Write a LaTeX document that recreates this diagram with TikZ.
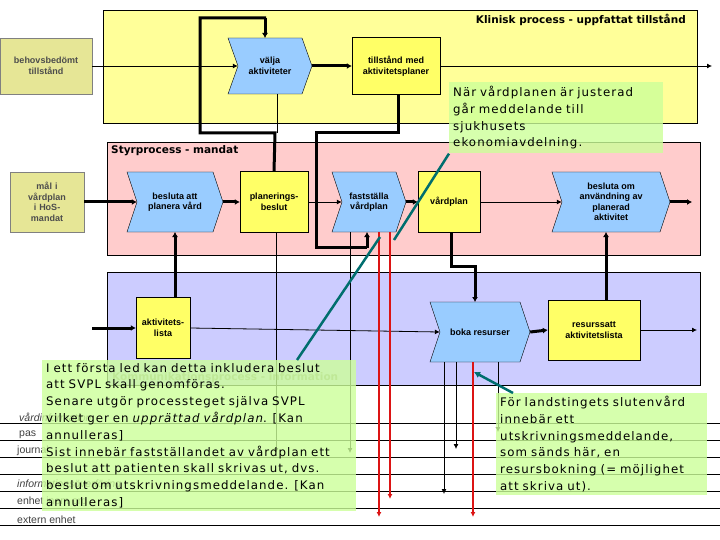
\documentclass[tikz,border=0pt]{standalone}
\usepackage{fontspec}
\setmainfont{DejaVu Sans}
\newfontfamily\lblfont{Liberation Sans}
\newfontfamily\notefont[LetterSpace=9]{DejaVu Sans}
\usetikzlibrary{arrows.meta}
\definecolor{clin}{RGB}{255,255,153}
\definecolor{styr}{RGB}{255,204,204}
\definecolor{komm}{RGB}{204,204,255}
\definecolor{chev}{RGB}{153,204,255}
\definecolor{ybox}{RGB}{255,255,102}
\definecolor{olive}{RGB}{230,230,150}
\definecolor{note}{RGB}{204,255,153}
\definecolor{teal2}{RGB}{0,110,110}
\definecolor{red2}{RGB}{220,20,20}
\newcommand{\chevnode}[6]{%
 \filldraw[fill=chev,draw=black,thin] (#2-#4/2,#3-#5/2) -- (#2+#4/2-10,#3-#5/2) -- (#2+#4/2,#3) -- (#2+#4/2-10,#3+#5/2) -- (#2-#4/2,#3+#5/2) -- (#2-#4/2+10,#3) -- cycle;
 \node[lbl,minimum width=#4,minimum height=#5,inner sep=0pt] (#1) at (#2,#3) {#6};}
\begin{document}
\begin{tikzpicture}[x=1pt,y=-1pt,
 lbl/.style={font=\lblfont\fontsize{9}{10.5}\selectfont\bfseries,align=center},
 ybx/.style={lbl,draw=black,thin,fill=ybox,inner sep=1pt},
 obx/.style={lbl,draw=gray,thin,fill=olive,text=black!70,inner sep=1pt},
 ttl/.style={font=\bfseries\fontsize{10.5}{12}\selectfont,inner sep=0pt},
 flow/.style={-{Latex[length=5pt,width=5pt]},line width=0.8pt},
 tflow/.style={-{Latex[length=5pt,width=6pt]},line width=3pt},
 thk/.style={line width=3pt},
 red/.style={-{Latex[length=5pt,width=5pt]},draw=red2,line width=2.5pt},
 teal/.style={draw=teal2,line width=2.5pt},
 notebox/.style={fill=note,fill opacity=0.8,text opacity=1,align=left,anchor=north west,inner sep=4pt,font=\notefont\fontsize{11.8}{16.8}\selectfont},
 row/.style={font=\lblfont\fontsize{10.5}{11}\selectfont,text=black!75,anchor=south west,inner sep=1pt}]
\useasboundingbox (0,0) rectangle (720,540);
% lanes
\filldraw[fill=clin,draw=black] (103,10) rectangle (697,123);
\node[ttl,anchor=north east] (t1) at (686,14) {Klinisk process - uppfattat tillstånd};
\filldraw[fill=styr,draw=black] (107,142) rectangle (700,255);
\node[ttl,anchor=north west] (t2) at (111,145) {Styrprocess - mandat};
\filldraw[fill=komm,draw=black] (107,272) rectangle (700,385);
\node[ttl,anchor=south west,text=black!45] (t3) at (112,383) {Kommunikationsprocess - information};
% row lines
\foreach \y in {423,440,457,474,491,508,525} \draw[black,thin] (0,\y) -- (720,\y);
\node[row,font=\lblfont\itshape\fontsize{10.5}{11}\selectfont] (r1) at (18,423) {vårdinformation};
\node[row] (r2) at (18,440) {pas};
\node[row] (r3) at (16,457) {journal};
\node[row,font=\lblfont\itshape\fontsize{10.5}{11}\selectfont] (r4) at (16,491) {informationsöverföring};
\node[row] (r5) at (16,508) {enhet inom org};
\node[row] (r6) at (16,525) {extern enhet};
% nodes
\node[obx,minimum width=92,minimum height=56] (beh) at (46,66) {behovsbedömt\\tillstånd};
\chevnode{valja}{270}{66}{84}{56}{välja\\aktiviteter}
\node[ybx,minimum width=88,minimum height=57,text width=86] (till) at (396,66) {tillstånd med\\aktivitetsplaner};
\node[obx,minimum width=74,minimum height=60,text width=66] (mal) at (47,202) {mål i\\vårdplan\\i HoS-\\mandat};
\chevnode{bes}{175}{202}{96}{60}{besluta att\\planera vård}
\node[ybx,minimum width=68,minimum height=61,text width=66] (plan) at (274,202) {planerings-\\beslut};
\chevnode{fast}{369}{202}{74}{60}{fastställa\\vårdplan}
\node[ybx,minimum width=62,minimum height=61,text width=60] (vp) at (449,202) {vårdplan};
\chevnode{anv}{611}{202}{118}{60}{besluta om\\användning av\\planerad\\aktivitet}
\node[ybx,minimum width=54,minimum height=61,text width=52] (akt) at (163,328) {aktivitets-\\lista};
\chevnode{boka}{480}{332}{100}{60}{boka resurser}
\node[ybx,minimum width=92,minimum height=60,text width=90] (res) at (594,330) {resurssatt\\aktivitetslista};
% coordinates
\coordinate (outA) at (712,66);
\coordinate (outB) at (692,202);
\coordinate (outC) at (697,330);
% top flows
\draw[flow] (beh.east) -- ([xshift=10pt]valja.west);
\draw[tflow] (valja.east) -- (till.west);
\draw[flow] (till.east) -- (outA);
\draw[thk] (plan.north) -- (275,133) -- (200,133) -- (200,18) -- (266,18);
\draw[tflow] (265,18) -- (265,38);
\draw[line width=0.8pt] (277,94) -- (277,133);
\draw[thk] (398,95) -- (398,133) -- (316,133) -- (316,247) -- (367,247);
\draw[tflow] (367,248) -- (367,232);
% pink row
\draw[tflow] (mal.east) -- ([xshift=10pt]bes.west);
\draw[tflow] (bes.east) -- (plan.west);
\draw[flow] (plan.east) -- ([xshift=10pt]fast.west);
\draw[tflow] (fast.east) -- (vp.west);
\draw[flow] (vp.east) -- ([xshift=10pt]anv.west);
\draw[tflow] (anv.east) -- (outB);
% blue row
\draw[tflow] (92,328) -- (akt.west);
\draw[flow] (akt.east) -- ([xshift=10pt]boka.west);
\draw[tflow] (boka.east) -- (res.west);
\draw[flow] (res.east) -- (outC);
\draw[tflow] ([xshift=12pt]akt.north) -- (175,232);
\draw[tflow] (606,300) -- (606,232);
\draw[thk] (451,233) -- (451,266) -- (475,266);
\draw[tflow] (475,265) -- (475,302);
% verticals down
\draw[flow] (276,232) -- (276,453);
\draw[flow] (350,232) -- (350,453);
\draw[red] (379,232) -- (379,517);
\draw[red] (390,232) -- (390,499);
\draw[red] (473,362) -- (473,517);
\draw[flow] (444,362) -- (444,494);
\draw[flow] (456,362) -- (456,449);
\draw[flow] (498,362) -- (498,432);
% notes
\node[notebox,text width=206] (n1) at (449,82) {När vårdplanen är justerad\\går meddelande till\\sjukhusets\\ekonomiavdelning.};
\node[notebox,text width=306,inner ysep=3pt] (n2) at (42,360) {I ett första led kan detta inkludera beslut\\att SVPL skall genomföras.\\Senare utgör processteget själva SVPL\\vilket ger en \emph{upprättad vårdplan}. [Kan\\annulleras]\\Sist innebär fastställandet av vårdplan ett\\beslut att patienten skall skrivas ut, dvs.\\beslut om utskrivningsmeddelande. [Kan\\annulleras]};
\node[notebox,text width=203,inner ysep=3pt] (n3) at (496,393) {För landstingets slutenvård\\innebär ett\\utskrivningsmeddelande,\\som sänds här, en\\resursbokning (= möjlighet\\att skriva ut).};
% teal pointers
\coordinate (p1) at (394,240);
\coordinate (p2) at (380,237);
\coordinate (p3) at (474,372);
\draw[teal] (n1.south west) -- (p1);
\draw[teal] ([xshift=255pt]n2.north west) -- (p2);
\draw[teal,-{Latex[length=6pt,width=7pt]}] ([xshift=17pt]n3.north west) -- (p3);
\end{tikzpicture}
\end{document}
